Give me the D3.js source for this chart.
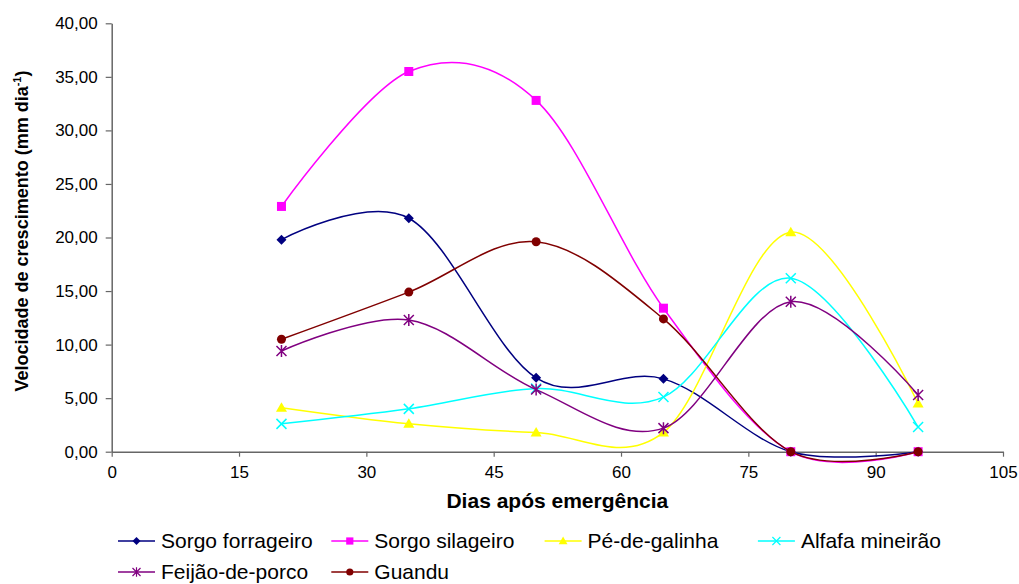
<!DOCTYPE html>
<html>
<head>
<meta charset="utf-8">
<script src="https://cdn.jsdelivr.net/npm/d3@7"></script>
<style>
  body { margin: 0; background: #fff; }
  text { font-family: "Liberation Sans", Arial, sans-serif; fill: #000; }
</style>
</head>
<body>
<div class="chart"></div>
<script>
// Data
const dias = [20, 35, 50, 65, 80, 95];
const sorgoForrageiro = [19.8, 21.8, 6.9, 6.8, 0, 0];
const sorgoSilageiro = [22.9, 35.5, 32.8, 13.4, 0, 0];
const peDeGalinha = [4.1, 2.6, 1.8, 1.8, 20.5, 4.5];
const alfafaMineirao = [2.6, 4.0, 5.9, 5.1, 16.2, 2.3];
const feijaoDePorco = [9.4, 12.3, 5.8, 2.2, 14.0, 5.3];
const guandu = [10.5, 14.9, 19.6, 12.4, 0, 0];

const xTicks = [0, 15, 30, 45, 60, 75, 90, 105];
const yTicks = [0, 5, 10, 15, 20, 25, 30, 35, 40];

const series = [
    {name: "Sorgo forrageiro", values: sorgoForrageiro, color: "#000080", marker: "diamond"},
    {name: "Sorgo silageiro", values: sorgoSilageiro, color: "#ff00ff", marker: "square"},
    {name: "Pé-de-galinha", values: peDeGalinha, color: "#ffff00", marker: "triangle"},
    {name: "Alfafa mineirão", values: alfafaMineirao, color: "#00ffff", marker: "cross"},
    {name: "Feijão-de-porco", values: feijaoDePorco, color: "#800080", marker: "star"},
    {name: "Guandu", values: guandu, color: "#800000", marker: "circle"}
];

const W = 1019, H = 584;
const plot = {left: 111.7, right: 1003, top: 23.3, bottom: 451.7};

const svg = d3.select(".chart")
    .append("svg")
        .attr("width", W)
        .attr("height", H);

const x = d3.scaleLinear().domain([0, 105]).range([plot.left, plot.right]);
const y = d3.scaleLinear().domain([0, 40]).range([plot.bottom, plot.top]);

// Axes
const yAxis = svg.append("g")
    .attr("transform", `translate(${plot.left},0)`)
    .call(d3.axisLeft(y).tickValues(yTicks).tickSize(6).tickSizeOuter(0).tickPadding(8)
        .tickFormat(d => d3.format(".2f")(d).replace(".", ",")));

const xAxis = svg.append("g")
    .attr("transform", `translate(0,${plot.bottom})`)
    .call(d3.axisBottom(x).tickValues(xTicks).tickSize(5).tickSizeOuter(0).tickPadding(9));

[xAxis, yAxis].forEach(g => {
    g.select(".domain").attr("stroke", "#666").attr("stroke-width", 1.5);
    g.selectAll(".tick line").attr("stroke", "#666").attr("stroke-width", 1.2);
    g.selectAll(".tick text").style("font-size", "17px").attr("fill", "#000");
});

// Axis titles
svg.append("text")
    .attr("x", (plot.left + plot.right) / 2)
    .attr("y", 508)
    .attr("text-anchor", "middle")
    .style("font-size", "21px")
    .style("font-weight", "bold")
    .text("Dias após emergência");

const yTitle = svg.append("text")
    .attr("transform", "translate(28,231) rotate(-90)")
    .attr("text-anchor", "middle")
    .style("font-size", "18px")
    .style("font-weight", "bold");
yTitle.append("tspan").text("Velocidade de crescimento (mm dia");
yTitle.append("tspan").attr("dy", -7).style("font-size", "11px").text("-1");
yTitle.append("tspan").attr("dy", 7).text(")");

// Marker drawing
function drawMarker(g, type, color) {
    if (type === "diamond") {
        g.append("path").attr("d", "M0,-5L5,0L0,5L-5,0Z").attr("fill", color);
    } else if (type === "square") {
        g.append("rect").attr("x", -4.5).attr("y", -4.5).attr("width", 9).attr("height", 9).attr("fill", color);
    } else if (type === "triangle") {
        g.append("path").attr("d", "M0,-5.5L5.5,4L-5.5,4Z").attr("fill", color);
    } else if (type === "cross") {
        g.append("path").attr("d", "M-5,-5L5,5M-5,5L5,-5").attr("stroke", color).attr("stroke-width", 1.5);
    } else if (type === "star") {
        g.append("path").attr("d", "M-5,-5L5,5M-5,5L5,-5M0,-6L0,6").attr("stroke", color).attr("stroke-width", 1.5);
    } else if (type === "circle") {
        g.append("circle").attr("r", 4.5).attr("fill", color);
    }
}

// Lines (Excel-like smoothing)
const line = d3.line()
    .x(d => x(d[0]))
    .y(d => y(d[1]))
    .curve(d3.curveCardinal.tension(0));

series.forEach(s => {
    const pts = dias.map((d, i) => [d, s.values[i]]);
    svg.append("path")
        .datum(pts)
        .attr("fill", "none")
        .attr("stroke", s.color)
        .attr("stroke-width", 1.5)
        .attr("d", line);
    pts.forEach(p => {
        const g = svg.append("g").attr("transform", `translate(${x(p[0])},${y(p[1])})`);
        drawMarker(g, s.marker, s.color);
    });
});

// Legend: fixed-width columns, 4 per row
const legendRows = [[0, 1, 2, 3], [4, 5]];
const rowY = [541, 572];
const colW = 213.3;
legendRows.forEach((row, r) => {
    row.forEach((i, c) => {
        const s = series[i];
        const g = svg.append("g").attr("transform", `translate(${118 + c * colW},${rowY[r]})`);
        g.append("line").attr("x1", 0).attr("x2", 37).attr("stroke", s.color).attr("stroke-width", 1.5);
        const mg = g.append("g").attr("transform", "translate(18.5,0) scale(0.8)");
        drawMarker(mg, s.marker, s.color);
        g.append("text")
            .attr("x", 43)
            .attr("y", 7)
            .style("font-size", "21px")
            .text(s.name);
    });
});
</script>
</body>
</html>
